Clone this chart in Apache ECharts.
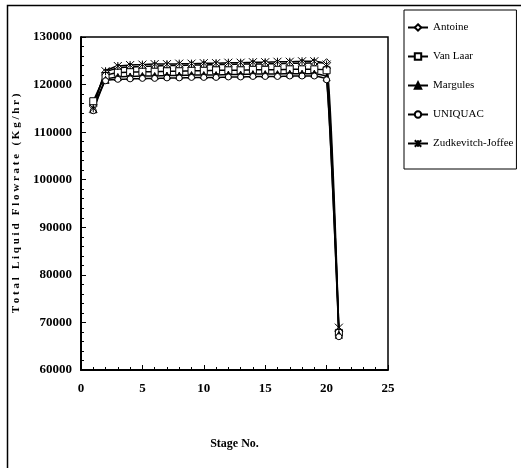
<!DOCTYPE html>
<html><head><meta charset="utf-8">
<script src="https://cdn.jsdelivr.net/npm/echarts@6/dist/echarts.min.js"></script>
<style>html,body{margin:0;padding:0;background:#fff}#c{width:521px;height:468px}</style>
</head><body><div id="c"></div>
<script>
const stages = [1,2,3,4,5,6,7,8,9,10,11,12,13,14,15,16,17,18,19,20,21];
const seriesNames = ['Antoine','Van Laar','Margules','UNIQUAC','Zudkevitch-Joffee'];
const antoine = [115500,122500,123500,123700,123800,123900,124000,124000,124100,124100,124200,124200,124300,124300,124400,124400,124500,124500,124600,124600,68200];
const vanLaar = [116500,121800,122500,122600,122700,122700,122800,122800,122900,122900,123000,123000,123000,123100,123100,123100,123200,123200,123200,123000,67800];
const margules = [114800,121000,121600,121700,121800,121800,121900,121900,122000,122000,122000,122100,122100,122200,122200,122200,122300,122300,122300,121500,67400];
const uniquac = [114500,120800,121100,121200,121300,121300,121400,121400,121500,121500,121500,121600,121600,121700,121700,121700,121800,121800,121800,121000,67000];
const zudkevitch = [115000,122800,123900,124100,124200,124300,124300,124400,124400,124500,124500,124600,124600,124700,124700,124800,124800,124900,124900,124200,68900];
const xTicks = [0,5,10,15,20,25];
const yTicks = [60000,70000,80000,90000,100000,110000,120000,130000];

const FONT = 'Liberation Serif';
const valuesList = [antoine, vanLaar, margules, uniquac, zudkevitch];
const symbols = ['diamond','rect','triangle','circle','path://M0,0L10,10M10,0L0,10M5,0L5,10'];
const filled = [false,false,true,false,true];
const sizes = [8,7,7,6,8];

const chart = echarts.init(document.getElementById('c'));
chart.setOption({
  animation:false,
  backgroundColor:'#fff',
  graphic:[
    {type:'rect',left:5,top:3,shape:{width:600,height:600},style:{fill:'none',stroke:'#000',lineWidth:1.5},silent:true},
    {type:'polyline',shape:{points:[[81,37],[388,37],[388,370]]},style:{fill:'none',stroke:'#000',lineWidth:1.5},silent:true}
  ],
  grid:{left:81,top:37,right:133,bottom:98},
  legend:{
    orient:'vertical', left:404, top:10, padding:[12,3,20,3],
    borderColor:'#000', borderWidth:1, itemWidth:20, itemHeight:8, itemGap:18,
    textStyle:{fontFamily:FONT,fontSize:11,color:'#000'},
    data:seriesNames
  },
  xAxis:{
    type:'value', min:xTicks[0], max:xTicks[xTicks.length-1], interval:5,
    axisLine:{lineStyle:{color:'#000',width:2}},
    axisTick:{inside:true,length:5,lineStyle:{color:'#000'}},
    minorTick:{show:true,splitNumber:5,length:3,lineStyle:{color:'#000'}},
    splitLine:{show:false},
    axisLabel:{fontFamily:FONT,fontWeight:'bold',fontSize:13,color:'#000',margin:12},
    name:'Stage No.', nameLocation:'middle', nameGap:68,
    nameTextStyle:{fontFamily:FONT,fontWeight:'bold',fontSize:12,color:'#000'}
  },
  yAxis:{
    type:'value', min:yTicks[0], max:yTicks[yTicks.length-1], interval:10000,
    axisLine:{lineStyle:{color:'#000',width:2}},
    axisTick:{inside:true,length:5,lineStyle:{color:'#000'}},
    minorTick:{show:true,splitNumber:5,length:3,lineStyle:{color:'#000'}},
    splitLine:{show:false},
    axisLabel:{fontFamily:FONT,fontWeight:'bold',fontSize:13,color:'#000',margin:9,formatter:v=>String(v)},
    name:'T o t a l   L i q u i d   F l o w r a t e   ( K g / h r )', nameLocation:'middle', nameGap:57,
    nameTextStyle:{fontFamily:FONT,fontWeight:'bold',fontSize:11,color:'#000'}
  },
  series: seriesNames.map((n,i)=>({
    name:n, type:'line', smooth:0.15,
    data: stages.map((s,j)=>[s, valuesList[i][j]]),
    symbol:symbols[i], symbolSize:sizes[i], showSymbol:true,
    lineStyle:{color:'#000',width:1.5},
    itemStyle:{color: filled[i]?'#000':'#fff', borderColor:'#000', borderWidth:1}
  }))
});
</script></body></html>
